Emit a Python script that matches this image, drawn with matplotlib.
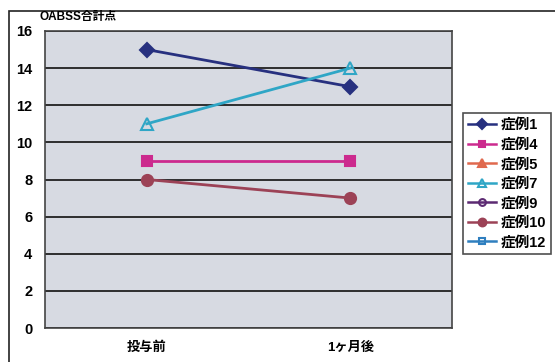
import matplotlib
matplotlib.use("Agg")
import matplotlib.pyplot as plt
import matplotlib.patches as mpatches
import numpy as np

plt.rcParams['font.family'] = ['Liberation Sans', 'Noto Sans CJK JP', 'DejaVu Sans']

categories = ["投与前", "1ヶ月後"]
series_names = ["症例1", "症例4", "症例5", "症例7", "症例9", "症例10", "症例12"]
case1 = [15, 13]
case4 = [9, 9]
case5 = [np.nan, np.nan]
case7 = [11, 14]
case9 = [np.nan, np.nan]
case10 = [8, 7]
case12 = [np.nan, np.nan]
y_ticks = [0, 2, 4, 6, 8, 10, 12, 14, 16]

series = [case1, case4, case5, case7, case9, case10, case12]
styles = [
    dict(color="#27307f", marker="D", mfc="#27307f", ms=7),
    dict(color="#cc2a8e", marker="s", mfc="#cc2a8e", ms=7),
    dict(color="#e0694e", marker="^", mfc="#e0694e", ms=8),
    dict(color="#2fa6c6", marker="^", mfc="none", ms=9),
    dict(color="#5c2a72", marker="o", mfc="none", ms=7),
    dict(color="#9c4256", marker="o", mfc="#9c4256", ms=8),
    dict(color="#2f7fbf", marker="s", mfc="none", ms=7),
]

W, H = 555, 362
fig = plt.figure(figsize=(W / 100, H / 100), dpi=100)
fig.patch.set_facecolor("white")

# outer chart frame
fig.patches.append(mpatches.Rectangle((9 / W, -0.1), 1.2, 1 - 11 / H + 0.1,
                                      transform=fig.transFigure, fill=False,
                                      edgecolor="#222222", lw=1.2))

left, right, top, bottom = 45, 452, 31, 328
ax = fig.add_axes([left / W, 1 - bottom / H, (right - left) / W, (bottom - top) / H])
ax.set_facecolor("#d7dae2")

x = np.arange(len(categories))
for name, vals, st in zip(series_names, series, styles):
    ax.plot(x, vals, label=name, lw=2, color=st["color"], marker=st["marker"],
            markerfacecolor=st["mfc"], markeredgecolor=st["color"],
            markersize=st["ms"], markeredgewidth=1.5)

ax.set_xlim(-0.5, 1.5)
ax.set_ylim(0, 16)
ax.set_yticks(y_ticks)
ax.set_yticklabels([str(v) for v in y_ticks], fontsize=10.5, fontweight="bold")
ax.set_xticks(x)
ax.set_xticklabels(categories, fontsize=9.5, fontweight="bold")
ax.tick_params(axis="y", length=0, pad=9)
ax.tick_params(axis="x", length=0, pad=10)
ax.yaxis.grid(True, color="#111111", lw=1.2)
ax.set_axisbelow(True)
for s in ax.spines.values():
    s.set_color("#444444")
    s.set_linewidth(1.2)

fig.text(40 / W, 1 - 17 / H, "OABSS合計点", fontsize=8.5, fontweight="bold",
         ha="left", va="center")

leg = ax.legend(loc="upper left", bbox_to_anchor=(463 / W, 1 - 113 / H),
                bbox_transform=fig.transFigure, fontsize=10.5, frameon=True,
                fancybox=False, edgecolor="#222222", borderpad=0.35,
                labelspacing=0.38, handlelength=1.9, handletextpad=0.3,
                borderaxespad=0, markerscale=0.7)
leg.get_frame().set_linewidth(1.2)
for t in leg.get_texts():
    t.set_fontweight("bold")
for h in leg.get_lines():
    h.set_linewidth(1.8)

fig.savefig("out.png", dpi=100)
